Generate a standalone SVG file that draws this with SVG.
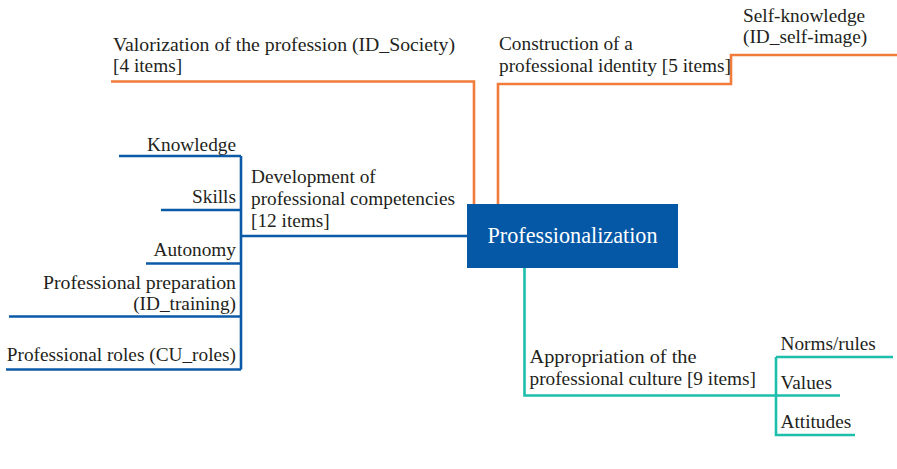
<svg xmlns="http://www.w3.org/2000/svg" width="897" height="469" viewBox="0 0 897 469">
<style>
.t{font-family:"Liberation Serif","Times New Roman",serif;font-size:19.3px;fill:#231f20}
.e{text-anchor:end}
.c{fill:none;stroke-width:2.6;stroke-linejoin:miter}
.o{stroke:#f07b3b}
.b{stroke:#0b5aa8}
.g{stroke:#1dbfac}
</style>
<rect width="897" height="469" fill="#ffffff"/>
<g id="connectors">
<path class="c o" d="M111,81.5 H474 V204"/>
<path class="c o" d="M498,204 V84 H731 V55 H897"/>
<path class="c b" d="M467,236 H241"/>
<path class="c b" d="M241,156 V369.5"/>
<path class="c b" d="M119,156 H241"/>
<path class="c b" d="M161,210 H241"/>
<path class="c b" d="M146,263.5 H241"/>
<path class="c b" d="M9,316.5 H241"/>
<path class="c b" d="M6,369.5 H241"/>
<path class="c g" d="M524.5,268 V395.5 H840"/>
<path class="c g" d="M776,357 V435 H855"/>
<path class="c g" d="M776,357 H893"/>
</g>
<g id="center">
<rect x="467" y="204" width="211" height="64" fill="#0458a6"/>
<text x="572.5" y="243" font-family="Liberation Serif,'Times New Roman',serif" font-size="22.2" fill="#ffffff" text-anchor="middle">Professionalization</text>
</g>
<g id="valorization">
<text class="t" x="113" y="51" textLength="342" lengthAdjust="spacingAndGlyphs">Valorization of the profession (ID_Society)</text>
<text class="t" x="113" y="72">[4 items]</text>
</g>
<g id="construction">
<text class="t" x="499" y="50">Construction of a</text>
<text class="t" x="499" y="72">professional identity [5 items]</text>
</g>
<g id="self-knowledge">
<text class="t" x="743" y="22">Self-knowledge</text>
<text class="t" x="743" y="43">(ID_self-image)</text>
</g>
<g id="development">
<text class="t" x="251" y="183">Development of</text>
<text class="t" x="251" y="205">professional competencies</text>
<text class="t" x="251" y="226.5">[12 items]</text>
</g>
<g id="knowledge"><text class="t e" x="236" y="151">Knowledge</text></g>
<g id="skills"><text class="t e" x="236" y="203">Skills</text></g>
<g id="autonomy"><text class="t e" x="236" y="256">Autonomy</text></g>
<g id="preparation">
<text class="t e" x="236" y="288.5" textLength="193" lengthAdjust="spacingAndGlyphs">Professional preparation</text>
<text class="t e" x="236" y="310">(ID_training)</text>
</g>
<g id="roles"><text class="t e" x="236" y="361">Professional roles (CU_roles)</text></g>
<g id="appropriation">
<text class="t" x="529.5" y="362.5" textLength="167" lengthAdjust="spacingAndGlyphs">Appropriation of the</text>
<text class="t" x="529.5" y="384.5">professional culture [9 items]</text>
</g>
<g id="norms"><text class="t" x="780.5" y="350">Norms/rules</text></g>
<g id="values"><text class="t" x="780.5" y="389">Values</text></g>
<g id="attitudes"><text class="t" x="780.5" y="428">Attitudes</text></g>
</svg>
